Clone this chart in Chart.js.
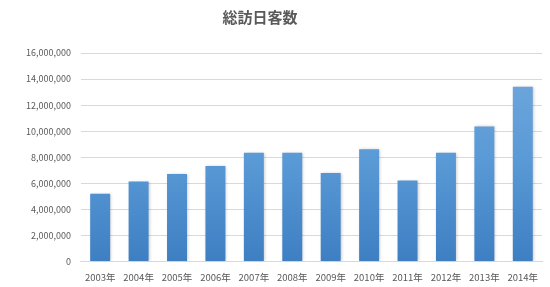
<!DOCTYPE html>
<html>
<head>
<meta charset="utf-8">
<script src="https://cdn.jsdelivr.net/npm/chart.js@4"></script>
<style>
  html, body { margin: 0; padding: 0; background: #fff; }
  #wrap { width: 550px; height: 287px; }
</style>
</head>
<body>
<div id="wrap"><canvas id="visitorsChart"></canvas></div>
<script>
// 訪日外客数 (by year)
const chartTitle = '総訪日客数';
const years = ['2003年', '2004年', '2005年', '2006年', '2007年', '2008年',
               '2009年', '2010年', '2011年', '2012年', '2013年', '2014年'];
const visitors = [5211725, 6137905, 6727926, 7334077, 8346969, 8350835,
                  6789658, 8611175, 6218752, 8358105, 10363904, 13413467];

const fontFamily = '"Noto Sans CJK JP", "Noto Sans", sans-serif';
const textColor = '#595959';

function barGradient(context) {
    const chart = context.chart;
    const area = chart.chartArea;
    if (!area) return '#5b9bd5';
    const g = chart.ctx.createLinearGradient(0, area.top, 0, area.bottom);
    g.addColorStop(0, '#74a9dd');
    g.addColorStop(0.5, '#5a9ad6');
    g.addColorStop(1, '#3e7fc3');
    return g;
}

// soft shadow around the bars
const barShadow = {
    id: 'barShadow',
    beforeDatasetsDraw(chart) {
        const ctx = chart.ctx;
        ctx.save();
        ctx.shadowColor = 'rgba(0, 0, 0, 0.25)';
        ctx.shadowBlur = 3;
        ctx.shadowOffsetX = 1;
        ctx.shadowOffsetY = 0;
    },
    afterDatasetsDraw(chart) {
        chart.ctx.restore();
    }
};

// title sits a bit left of the canvas centre, like the original
const offsetTitle = {
    id: 'offsetTitle',
    afterDraw(chart) {
        const ctx = chart.ctx;
        ctx.save();
        ctx.fillStyle = textColor;
        ctx.font = 'bold 15px ' + fontFamily;
        ctx.textAlign = 'center';
        ctx.textBaseline = 'middle';
        ctx.fillText(chartTitle, 260, 17);
        ctx.restore();
    }
};

const ctx = document.getElementById('visitorsChart').getContext('2d');
const visitorsChart = new Chart(ctx, {
    type: 'bar',
    data: {
        labels: years,
        datasets: [{
            label: chartTitle,
            data: visitors,
            backgroundColor: barGradient,
            borderWidth: 0,
            categoryPercentage: 1.0,
            barPercentage: 0.52
        }]
    },
    options: {
        responsive: true,
        maintainAspectRatio: false,
        animation: false,
        layout: {
            padding: { left: 16, right: 8, top: 53, bottom: 2 }
        },
        plugins: {
            legend: { display: false },
            tooltip: { enabled: false },
            title: { display: false }
        },
        scales: {
            x: {
                grid: { display: false },
                border: { color: '#d9d9d9' },
                ticks: {
                    color: textColor,
                    font: { family: fontFamily, size: 9.5 },
                    maxRotation: 0,
                    autoSkip: false,
                    padding: 2
                }
            },
            y: {
                min: 0,
                max: 16000000,
                grid: { color: '#d9d9d9', drawTicks: false },
                border: { display: false },
                ticks: {
                    stepSize: 2000000,
                    color: textColor,
                    font: { family: fontFamily, size: 9 },
                    padding: 10,
                    callback: function(value) {
                        return value.toLocaleString('en-US');
                    }
                }
            }
        }
    },
    plugins: [barShadow, offsetTitle]
});
</script>
</body>
</html>
